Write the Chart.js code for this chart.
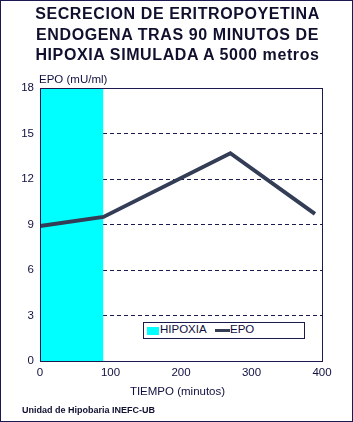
<!DOCTYPE html>
<html>
<head>
<meta charset="utf-8">
<script src="https://cdn.jsdelivr.net/npm/chart.js@4"></script>
<style>
  html, body { margin: 0; padding: 0; background: #fff; }
  #wrap { position: relative; width: 353px; height: 422px; box-sizing: border-box; border: 1px solid #1a1a50; overflow: hidden; font-family: "Liberation Sans", Arial, sans-serif; color: #101040; }
  #chart { position: absolute; left: -1px; top: -1px; }
  .t { position: absolute; white-space: nowrap; }
  #title { left: 0; width: 353px; top: 3px; text-align: center; font-weight: bold; font-size: 16px; line-height: 20.5px; letter-spacing: 0.6px; color: #10102e; }
  #ytitle { left: 38px; top: 72px; font-size: 11.5px; }
  #xtitle { left: 0; width: 353px; text-align: center; top: 384px; font-size: 11.5px; }
  #foot { left: 21px; top: 404px; font-size: 9px; font-weight: bold; color: #101030; }
  #legend { position: absolute; left: 142px; top: 321px; width: 160px; height: 15px; border: 1px solid #1a1a50; background: #fff; font-size: 11.5px; }
  #legend .sw { position: absolute; left: 3px; top: 4px; width: 12px; height: 8px; background: #00ffff; }
  #legend .ln { position: absolute; left: 71px; top: 6px; width: 15px; height: 3px; background: #333d55; }
</style>
</head>
<body>
<div id="wrap">
  <canvas id="chart" width="353" height="422"></canvas>
  <div id="title" class="t">SECRECION DE ERITROPOYETINA<br>ENDOGENA TRAS 90 MINUTOS DE<br>HIPOXIA SIMULADA A 5000 metros</div>
  <div id="ytitle" class="t">EPO (mU/ml)</div>
  <div id="legend">
    <span class="sw"></span><span class="t" style="left:16px;top:0px">HIPOXIA</span>
    <span class="ln"></span><span class="t" style="left:86px;top:0px">EPO</span>
  </div>
  <div id="xtitle" class="t">TIEMPO (minutos)</div>
  <div id="foot" class="t">Unidad de Hipobaria INEFC-UB</div>
</div>
<script>
const tiempo = [0, 90, 270, 390];
const epo = [8.9, 9.5, 13.7, 9.7];
const hipoxiaX = [0, 90];
const hipoxiaY = [18, 18];

const frame = {
  id: 'frame',
  afterDatasetsDraw(chart) {
    const a = chart.chartArea, c = chart.ctx;
    c.save();
    c.strokeStyle = '#1a1a50';
    c.lineWidth = 1;
    c.strokeRect(Math.round(a.left) + 0.5, Math.round(a.top) + 0.5, Math.round(a.right - a.left), Math.round(a.bottom - a.top));
    c.restore();
  }
};

new Chart(document.getElementById('chart'), {
  type: 'line',
  data: {
    datasets: [
      {
        label: 'EPO',
        data: tiempo.map((t, i) => ({ x: t, y: epo[i] })),
        borderColor: '#333d55',
        borderWidth: 4,
        pointRadius: 0,
        tension: 0,
        order: 0
      },
      {
        label: 'HIPOXIA',
        data: hipoxiaX.map((t, i) => ({ x: t, y: hipoxiaY[i] })),
        borderWidth: 0,
        borderColor: 'rgba(0,0,0,0)',
        backgroundColor: '#00ffff',
        fill: 'origin',
        pointRadius: 0,
        order: 1
      }
    ]
  },
  options: {
    responsive: false,
    animation: false,
    layout: { padding: { left: 0, top: 88, right: 31, bottom: 0 } },
    plugins: { legend: { display: false }, tooltip: { enabled: false } },
    scales: {
      x: {
        type: 'linear', min: 0, max: 400,
        ticks: { stepSize: 100, color: '#101040', font: { family: 'Liberation Sans', size: 11.5 }, padding: 5 },
        grid: { display: false, drawTicks: false },
        border: { display: false },
        afterFit(s) { s.height = 61; }
      },
      y: {
        min: 0, max: 18,
        ticks: { stepSize: 3, color: '#101040', font: { family: 'Liberation Sans', size: 11.5 }, padding: 6 },
        grid: {
          color: ctx => (ctx.tick && (ctx.tick.value === 0 || ctx.tick.value === 18)) ? 'rgba(0,0,0,0)' : '#1a1a50',
          drawTicks: false, lineWidth: 1
        },
        border: { display: false, dash: [4, 3] },
        afterFit(s) { s.width = 40; }
      }
    }
  },
  plugins: [frame]
});
</script>
</body>
</html>
